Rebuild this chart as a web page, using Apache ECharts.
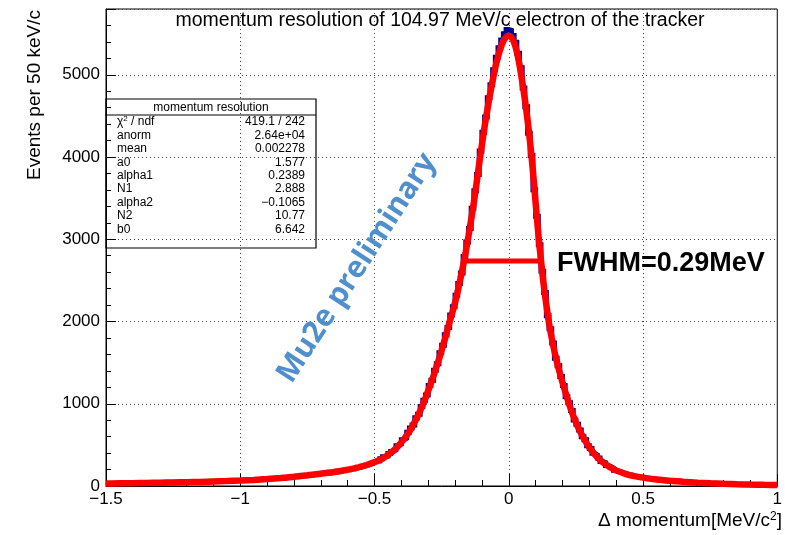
<!DOCTYPE html>
<html>
<head>
<meta charset="utf-8">
<script src="https://cdn.jsdelivr.net/npm/echarts@6/dist/echarts.min.js"></script>
<style>
  html, body { margin: 0; padding: 0; background: #fff; }
  #chart { width: 785px; height: 535px; }
</style>
</head>
<body>
<div id="chart"></div>
<script>
// Histogram binning: 250 bins of 10 keV/c from -1.5 to 1.0 MeV/c
const binLow = -1.5;
const binWidth = 0.01;

// Event counts per bin (left to right)
const counts = [
  28, 31, 33, 27, 30, 35, 32, 29, 34, 31,
  36, 33, 38, 35, 40, 34, 37, 41, 36, 39,
  42, 38, 44, 41, 45, 40, 47, 43, 46, 44,
  48, 45, 51, 47, 53, 50, 55, 49, 56, 52,
  57, 54, 61, 58, 63, 59, 66, 62, 68, 64,
  69, 72, 68, 76, 73, 80, 77, 84, 81, 86,
  88, 85, 93, 97, 94, 103, 99, 108, 105, 114,
  116, 113, 122, 127, 124, 135, 131, 142, 139, 151,
  154, 152, 163, 160, 171, 176, 173, 186, 190, 199,
  203, 212, 209, 225, 231, 236, 252, 258, 271, 286,
  301, 305, 331, 356, 362, 395, 421, 437, 488, 506,
  562, 581, 655, 704, 741, 830, 871, 968, 1042, 1108,
  1222, 1286, 1408, 1485, 1621, 1712, 1838, 1927, 2078, 2181,
  2318, 2462, 2589, 2791, 2968, 3131, 3378, 3590, 3788, 4072,
  4302, 4488, 4721, 4880, 5062, 5213, 5330, 5424, 5498, 5552,
  5541, 5478, 5396, 5262, 5085, 4840, 4612, 4290, 4018, 3602,
  3281, 2934, 2610, 2352, 2071, 1912, 1738, 1552, 1461, 1330,
  1221, 1086, 1012, 918, 803, 751, 681, 598, 561, 489,
  457, 398, 379, 341, 298, 286, 249, 238, 219, 193,
  178, 172, 155, 151, 136, 133, 119, 117, 106, 105,
  103, 96, 89, 90, 81, 80, 73, 74, 67, 68,
  61, 62, 56, 57, 51, 53, 47, 48, 44, 45,
  43, 38, 39, 34, 35, 31, 32, 28, 30, 26,
  27, 23, 25, 21, 22, 19, 21, 18, 19, 16,
  18, 15, 17, 14, 15, 13, 14, 12, 13, 11
];

// Fitted line shape: momentum offset (MeV/c) and fitted events
const fitX = [
  -1.50, -1.45, -1.40, -1.35, -1.30, -1.25, -1.20, -1.15, -1.10, -1.05,
  -1.00, -0.95, -0.90, -0.85, -0.80, -0.75, -0.70, -0.65, -0.60,
  -0.59, -0.58, -0.57, -0.56, -0.55, -0.54, -0.53, -0.52, -0.51, -0.50,
  -0.49, -0.48, -0.47, -0.46, -0.45, -0.44, -0.43, -0.42, -0.41, -0.40,
  -0.39, -0.38, -0.37, -0.36, -0.35, -0.34, -0.33, -0.32, -0.31, -0.30,
  -0.29, -0.28, -0.27, -0.26, -0.25, -0.24, -0.23, -0.22, -0.21, -0.20,
  -0.19, -0.18, -0.17, -0.16, -0.15, -0.14, -0.13, -0.12, -0.11, -0.10,
  -0.09, -0.08, -0.07, -0.06, -0.05, -0.04, -0.03, -0.02, -0.01, 0.00,
  0.01, 0.02, 0.03, 0.04, 0.05, 0.06, 0.07, 0.08, 0.09, 0.10,
  0.11, 0.12, 0.13, 0.14, 0.15, 0.16, 0.17, 0.18, 0.19, 0.20,
  0.21, 0.22, 0.23, 0.24, 0.25, 0.26, 0.27, 0.28, 0.29, 0.30,
  0.31, 0.32, 0.33, 0.34, 0.35, 0.36, 0.37, 0.38, 0.39, 0.40,
  0.45, 0.50, 0.55, 0.60, 0.65, 0.70, 0.75, 0.80, 0.85, 0.90, 0.95, 1.00
];
const fitY = [
  30, 32, 34, 37, 40, 43, 46, 50, 55, 60,
  66, 74, 84, 96, 112, 130, 150, 170, 197,
  204, 211, 219, 227, 236, 245, 255, 266, 278, 290,
  303, 318, 335, 355, 377, 401, 428, 458, 492, 530,
  570, 615, 665, 720, 780, 845, 915, 990, 1070, 1160,
  1250, 1340, 1440, 1540, 1650, 1760, 1880, 2000, 2110, 2230,
  2370, 2520, 2680, 2850, 3040, 3240, 3450, 3680, 3920, 4150,
  4370, 4570, 4760, 4930, 5090, 5220, 5330, 5410, 5460, 5475,
  5455, 5390, 5280, 5120, 4920, 4700, 4450, 4160, 3830, 3440,
  3070, 2740, 2450, 2200, 1980, 1800, 1640, 1500, 1375, 1260,
  1150, 1045, 945, 855, 775, 700, 635, 575, 520, 470,
  425, 385, 350, 318, 290, 265, 243, 223, 205, 189,
  132, 102, 80, 64, 51, 41, 33, 26, 21, 17, 14, 12
];

// Full width at half maximum marker
const fwhmValue = 0.29;
const fwhmStart = -0.162;
const fwhmLevel = 2737;

// Fit summary box
const statsTitle = 'momentum resolution';
const statsNames = ['χ{sup|2} / ndf', 'anorm', 'mean', 'a0', 'alpha1', 'N1', 'alpha2', 'N2', 'b0'];
const statsValues = ['419.1 / 242', '2.64e+04', '0.002278', '1.577', '0.2389', '2.888', '\u22120.1065', '10.77', '6.642'];

// Axis ranges and ticks
const xMin = -1.5, xMax = 1.0, xStep = 0.5;
const yMin = 0, yMax = 5800, yMajor = 1000, yMinor = 200;

const histData = counts.map((c, i) => [binLow + i * binWidth, c]);
histData.push([binLow + counts.length * binWidth, counts[counts.length - 1]]);
const fitData = fitX.map((x, i) => [x, fitY[i]]);
const fwhmData = [[fwhmStart, fwhmLevel], [fwhmStart + fwhmValue, fwhmLevel]];

const FONT = '"Liberation Sans", Arial, Helvetica, sans-serif';
const minus = v => String(v).replace('-', '\u2212');

const chart = echarts.init(document.getElementById('chart'), null, { renderer: 'canvas' });

// Stats box graphic elements
const boxX = 106, boxY = 99, boxW = 210, boxH = 149, headH = 16, rowH = 13.4;
const statsEls = [
  { type: 'rect', shape: { x: boxX, y: boxY, width: boxW, height: boxH },
    style: { fill: '#fff', stroke: '#000', lineWidth: 1.2 } },
  { type: 'line', shape: { x1: boxX, y1: boxY + headH, x2: boxX + boxW, y2: boxY + headH },
    style: { stroke: '#000', lineWidth: 1 } },
  { type: 'text', x: boxX + boxW / 2, y: boxY + headH / 2 + 0.5,
    style: { text: statsTitle, font: '12px ' + FONT, fill: '#000', align: 'center', verticalAlign: 'middle' } }
];
statsNames.forEach((name, k) => {
  const yy = boxY + headH + 7 + k * rowH;
  statsEls.push({ type: 'text', x: boxX + 11, y: yy,
    style: { text: name, font: '12px ' + FONT, fill: '#000', align: 'left', verticalAlign: 'middle',
      rich: { sup: { fontSize: 8, verticalAlign: 'top', padding: [0, 0, 6, 0], fontFamily: FONT } } } });
  statsEls.push({ type: 'text', x: boxX + 199, y: yy,
    style: { text: statsValues[k], font: '12px ' + FONT, fill: '#000', align: 'right', verticalAlign: 'middle' } });
});

const option = {
  animation: false,
  backgroundColor: '#fff',
  grid: { left: 106, right: 7, top: 9, bottom: 49, show: true, borderColor: '#000', borderWidth: 1, backgroundColor: 'transparent' },
  xAxis: {
    type: 'value', min: xMin, max: xMax, interval: xStep,
    axisLine: { show: true, onZero: false, lineStyle: { color: '#000', width: 1 } },
    axisTick: { show: true, inside: true, length: 12, lineStyle: { color: '#000', width: 1 } },
    minorTick: { show: true, splitNumber: 5, length: 6, lineStyle: { color: '#000', width: 1 } },
    splitLine: { show: true, lineStyle: { color: '#444', width: 1, type: [1, 3] } },
    minorSplitLine: { show: false },
    axisLabel: { color: '#000', fontSize: 17, fontFamily: FONT, margin: 5, formatter: v => minus(v) }
  },
  yAxis: [
    {
      type: 'value', min: yMin, max: yMax, interval: yMinor, position: 'left',
      axisLine: { show: true, onZero: false, lineStyle: { color: '#000', width: 1 } },
      axisTick: { show: true, inside: true, length: 5, lineStyle: { color: '#000', width: 1 } },
      splitLine: { show: false },
      axisLabel: { color: '#000', fontSize: 17, fontFamily: FONT, margin: 6,
        showMaxLabel: false,
        formatter: v => (Math.round(v) % yMajor === 0 ? String(Math.round(v)) : '') }
    },
    {
      type: 'value', min: yMin, max: yMax, interval: yMajor, position: 'left', offset: 0,
      axisLine: { show: false, onZero: false },
      axisTick: { show: true, inside: true, length: 10, lineStyle: { color: '#000', width: 1 } },
      splitLine: { show: true, lineStyle: { color: '#444', width: 1, type: [1, 3] } },
      axisLabel: { show: false }
    }
  ],
  series: [
    {
      name: 'events', type: 'line', step: 'end', data: histData, yAxisIndex: 0,
      showSymbol: false, symbol: 'none', z: 2,
      lineStyle: { color: '#000099', width: 5, join: 'miter' }
    },
    {
      name: 'fit', type: 'line', data: fitData, yAxisIndex: 0,
      showSymbol: false, symbol: 'none', smooth: 0.2, z: 3,
      lineStyle: { color: '#ff0000', width: 6.5 }
    },
    {
      name: 'fwhm', type: 'line', data: fwhmData, yAxisIndex: 0,
      showSymbol: false, symbol: 'none', z: 4,
      lineStyle: { color: '#ff0000', width: 5 }
    }
  ],
  graphic: [
    { type: 'text', x: 440, y: 21, z: 10,
      style: { text: 'momentum resolution of 104.97 MeV/c electron of the tracker', font: '19.5px ' + FONT,
        fill: '#000', align: 'center', verticalAlign: 'middle' } },
    { type: 'text', x: 35, y: 95, rotation: Math.PI / 2, z: 10,
      style: { text: 'Events per 50 keV/c', font: '19px ' + FONT, fill: '#000', align: 'center', verticalAlign: 'middle' } },
    { type: 'text', x: 782, y: 521, z: 10,
      style: { text: '\u0394 momentum[MeV/c{sup|2}]', font: '19px ' + FONT, fill: '#000', align: 'right', verticalAlign: 'middle',
        rich: { sup: { fontSize: 12, fontFamily: FONT, verticalAlign: 'top', padding: [0, 0, 9, 0] } } } },
    { type: 'text', x: 557, y: 264, z: 10,
      style: { text: 'FWHM=0.29MeV', font: 'bold 27px ' + FONT, fill: '#000', align: 'left', verticalAlign: 'middle' } },
    { type: 'text', x: 357, y: 268, rotation: 57 * Math.PI / 180, z: 10,
      style: { text: 'Mu2e preliminary', font: 'bold 30px "Open Sans", ' + FONT, fill: '#4f8fce', align: 'center', verticalAlign: 'middle' } },
    { type: 'group', z: 20, children: statsEls }
  ]
};

chart.setOption(option);
</script>
</body>
</html>
